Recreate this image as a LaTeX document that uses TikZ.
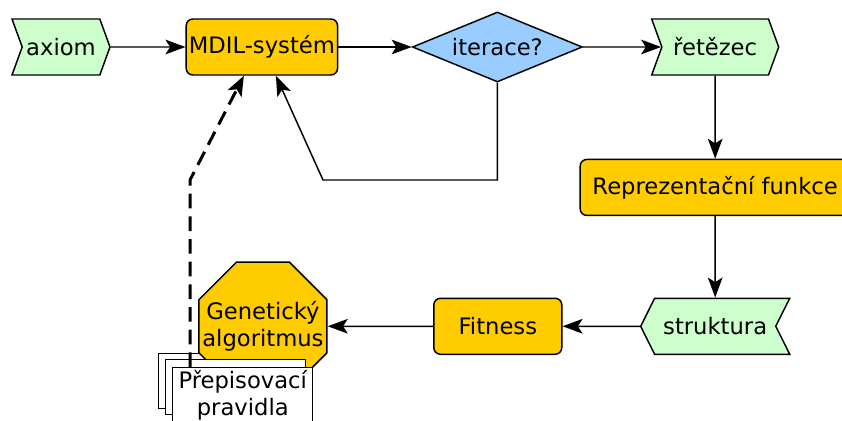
\documentclass[tikz,border=0pt]{standalone}
\usepackage{fontspec}
\setmainfont{DejaVu Sans}
\usepackage{tikz}
\usetikzlibrary{arrows.meta,positioning,shapes.geometric,shapes.symbols,calc}
\definecolor{lsYellow}{HTML}{FFCC00}
\definecolor{lsGreen}{HTML}{CCFFCC}
\definecolor{lsBlue}{HTML}{99CCFF}
\tikzset{
  % Yellow process box
  pbox/.style={rectangle,rounded corners=5pt,
    minimum height=42pt,inner sep=2pt,
    align=center,draw=black,line width=1.1pt,fill=lsYellow},
  % Green data box (signal)
  sigbox/.style={signal,signal pointer angle=140,
    minimum height=42pt,inner sep=2pt,
    draw=black,line width=1.1pt,fill=lsGreen},
  % Decision (blue diamond)
  dbox/.style={diamond,aspect=2.4,inner sep=1pt,
    minimum width=127.5pt,minimum height=52.5pt,
    draw=black,line width=1.1pt,fill=lsBlue},
  % Octagon
  obox/.style={regular polygon,regular polygon sides=8,
    minimum size=104pt,inner sep=-20pt,align=center,
    draw=black,line width=1.1pt,fill=lsYellow},
  % Stacked document pages
  docbox/.style={rectangle,anchor=north west,
    minimum width=105pt,minimum height=41pt,inner sep=1pt,
    align=center,draw=black,line width=1.1pt,fill=white},
  % Arrows
  arr/.style={-{Stealth[length=15pt,width=11pt,inset=3.5pt]},
    line width=1.1pt,color=black},
  arrd/.style={-{Stealth[length=15pt,width=11.5pt,inset=3.5pt]},
    line width=2.25pt,dash pattern=on 11pt off 6pt,color=black},
}
\begin{document}
\begin{tikzpicture}[x=0.75pt,y=-0.75pt,font=\fontsize{17}{20}\selectfont]
  \useasboundingbox (0,0) rectangle (842,421);

  \node[sigbox,signal to=east,signal from=west,minimum width=73.5pt] (axiom)
    at (61,47) {axiom};
  \node[pbox,minimum width=112.5pt,right=56pt of axiom] (mdil) {MDIL-systém};
  \node[dbox,right=55pt of mdil] (iter) {iterace?};
  \node[sigbox,signal to=east,signal from=west,minimum width=95.25pt,
    right=58.5pt of iter] (ret) {řetězec};
  \node[pbox,minimum width=202.5pt,below=62.25pt of ret] (repr)
    {Reprezentační funkce};
  \node[sigbox,signal to=west,signal from=east,signal pointer angle=127,
    minimum width=111.75pt,below=61pt of repr] (struk) {struktura};
  \node[pbox,minimum width=96pt,left=58pt of struk] (fit) {Fitness};

  % pages behind / in front of the octagon
  \node[docbox] (docA) at (158,353) {};
  \node[obox,left=79pt of fit] (gen) {Genetický\\algoritmus};
  \node[docbox] (docB) at (165,359) {};
  \node[docbox] (docC) at (172,367) {Přepisovací\\pravidla};

  \coordinate (loopc) at (323,180);
  \coordinate (bend) at (190,180);

  \draw[arr] (axiom) -- (mdil);
  \draw[arr] (mdil) -- (iter);
  \draw[arr] (iter) -- (ret);
  \draw[arr] (iter.south) |- (loopc) -- ($(mdil.south)+(14,0)$);
  \draw[arr] (ret) -- (repr);
  \draw[arr] (repr) -- (struk);
  \draw[arr] (struk) -- (fit);
  \draw[arr] (fit) -- (gen);
  \draw[arrd] ($(docC.north west)+(18,0)$) -- (bend)
    -- ($(mdil.south)+(-18,0)$);
\end{tikzpicture}
\end{document}
